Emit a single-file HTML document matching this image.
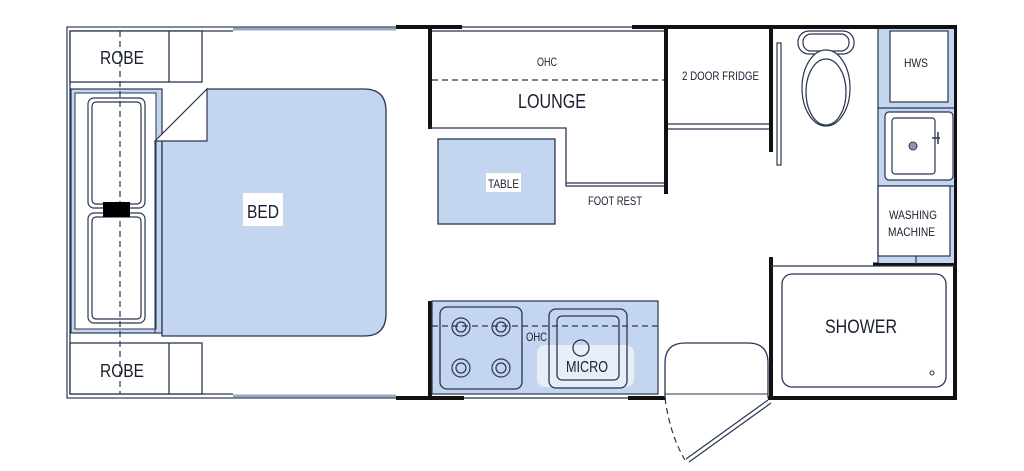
<!DOCTYPE html>
<html><head><meta charset="utf-8"><style>
html,body{margin:0;padding:0;background:#fff;width:1024px;height:471px;overflow:hidden}
text{font-family:"Liberation Sans",sans-serif;fill:#1a1f2e}
</style></head><body>
<svg width="1024" height="471" viewBox="0 0 1024 471" xmlns="http://www.w3.org/2000/svg">
<g fill="none" stroke="#2a3550" stroke-width="1.3">
<polyline points="396,27 67,27 67,398 396,398" stroke="#3a4560"/>
<line x1="70" y1="31" x2="233" y2="31"/>
<line x1="70" y1="394" x2="233" y2="394"/>
<line x1="70" y1="31" x2="70" y2="394"/>
</g>
<line x1="233" y1="29" x2="396" y2="29" stroke="#9aa7c0" stroke-width="3"/>
<line x1="233" y1="396" x2="396" y2="396" stroke="#9aa7c0" stroke-width="3"/>
<g stroke="#111" stroke-width="4" fill="none">
<line x1="396" y1="27" x2="462" y2="27"/>
<line x1="632" y1="27" x2="957" y2="27"/>
<line x1="955" y1="27" x2="955" y2="398"/>
<line x1="396" y1="398" x2="464" y2="398"/>
<line x1="628" y1="398" x2="666" y2="398"/>
<line x1="768" y1="398" x2="957" y2="398"/>
<line x1="430" y1="27" x2="430" y2="129"/>
<line x1="666" y1="27" x2="666" y2="194"/>
<line x1="771" y1="27" x2="771" y2="152"/>
<line x1="430" y1="301" x2="430" y2="398"/>
<line x1="771" y1="257" x2="771" y2="398"/>
<line x1="873" y1="264" x2="957" y2="264" stroke-width="3"/>
</g>
<g stroke="#2a3550" stroke-width="1.3" fill="none">
<line x1="462" y1="27" x2="632" y2="27"/>
<line x1="464" y1="398" x2="628" y2="398"/>
<line x1="432" y1="31" x2="664" y2="31"/>
</g>
<g fill="#fff" stroke="#2a3550" stroke-width="1.3">
<rect x="70" y="31" width="132" height="51"/>
<line x1="169" y1="31" x2="169" y2="82"/>
<rect x="70" y="343" width="132" height="51"/>
<line x1="169" y1="343" x2="169" y2="394"/>
</g>
<rect x="71" y="89" width="91" height="244" fill="#c4d6ef" stroke="#2a3550" stroke-width="1.2"/>
<rect x="75" y="93" width="81" height="236" fill="#fff" stroke="#2a3550" stroke-width="1"/>
<path d="M162 141 L207 89 L364 89 Q386 89 386 111 L386 314 Q386 336 364 336 L162 336 Z" fill="#c4d6ef" stroke="#2a3550" stroke-width="1.3"/>
<path d="M155 141 L207 89 L207 141 Z" fill="#fff" stroke="#2a3550" stroke-width="1.2"/>
<line x1="155" y1="141" x2="155" y2="333" stroke="#2a3550"/>
<g fill="#fff" stroke="#2a3550" stroke-width="1.2">
<rect x="88" y="98" width="57" height="110" rx="6"/>
<rect x="92" y="102" width="49" height="102" rx="4"/>
<rect x="88" y="213" width="57" height="110" rx="6"/>
<rect x="92" y="217" width="49" height="102" rx="4"/>
</g>
<line x1="120" y1="31" x2="120" y2="394" stroke="#2a3550" stroke-width="1.2" stroke-dasharray="6,4"/>
<rect x="103" y="202" width="27" height="15" fill="#000"/>
<rect x="243" y="193" width="40" height="33" fill="#fff"/>
<text x="247" y="218" font-size="18" textLength="32" lengthAdjust="spacingAndGlyphs">BED</text>
<text x="100" y="64" font-size="18" textLength="44" lengthAdjust="spacingAndGlyphs">ROBE</text>
<text x="100" y="377" font-size="18" textLength="44" lengthAdjust="spacingAndGlyphs">ROBE</text>
<g stroke="#2a3550" stroke-width="1.3" fill="none">
<polyline points="430,128 566,128 566,186 664,186"/>
<line x1="566" y1="183" x2="664" y2="183"/>
<line x1="432" y1="80" x2="664" y2="80" stroke-dasharray="6,4"/>
</g>
<text x="537" y="66" font-size="12" textLength="20" lengthAdjust="spacingAndGlyphs">OHC</text>
<text x="518" y="108" font-size="20" textLength="68" lengthAdjust="spacingAndGlyphs">LOUNGE</text>
<rect x="438" y="139" width="117" height="85" fill="#c4d6ef" stroke="#2a3550" stroke-width="1.3"/>
<rect x="486" y="173" width="35" height="19" fill="#fff"/>
<text x="488" y="188" font-size="12" textLength="31" lengthAdjust="spacingAndGlyphs">TABLE</text>
<text x="588" y="205" font-size="12" textLength="54" lengthAdjust="spacingAndGlyphs">FOOT REST</text>
<text x="682" y="80" font-size="12" textLength="77" lengthAdjust="spacingAndGlyphs">2 DOOR FRIDGE</text>
<g stroke="#2a3550" stroke-width="1.2" fill="none">
<line x1="668" y1="124" x2="769" y2="124"/>
<line x1="668" y1="129" x2="769" y2="129"/>
<rect x="777" y="43" width="4" height="122" fill="#fff"/>
<rect x="798" y="31" width="56" height="23" rx="11" fill="#fff"/>
<rect x="803" y="34" width="46" height="17" rx="8"/>
<ellipse cx="826" cy="88" rx="24" ry="38" fill="#fff"/>
<ellipse cx="826" cy="92" rx="20" ry="33"/>
</g>
<rect x="878" y="29" width="76" height="234" fill="#c4d6ef"/>
<g fill="#fff" stroke="#2a3550" stroke-width="1.2">
<rect x="890" y="31" width="58" height="71"/>
<line x1="878" y1="108" x2="954" y2="108" fill="none"/>
<rect x="885" y="112" width="68" height="68" rx="4"/>
<rect x="892" y="118" width="43" height="56" rx="3"/>
<line x1="878" y1="186" x2="954" y2="186" fill="none"/>
<rect x="878" y="186" width="72" height="70"/>
<line x1="878" y1="29" x2="878" y2="263" fill="none"/>
<line x1="916" y1="256" x2="916" y2="264" fill="none"/>
</g>
<circle cx="913" cy="146" r="4" fill="#8a96b0" stroke="#2a3550"/>
<line x1="932" y1="138" x2="940" y2="138" stroke="#2a3550" stroke-width="1.5"/>
<line x1="938" y1="132" x2="938" y2="144" stroke="#2a3550" stroke-width="1.5"/>
<text x="904" y="67" font-size="12" textLength="24" lengthAdjust="spacingAndGlyphs">HWS</text>
<text x="889" y="219" font-size="12" textLength="48" lengthAdjust="spacingAndGlyphs">WASHING</text>
<text x="888" y="236" font-size="12" textLength="47" lengthAdjust="spacingAndGlyphs">MACHINE</text>
<line x1="771" y1="266" x2="955" y2="266" stroke="#2a3550" stroke-width="1.3"/>
<rect x="782" y="274" width="164" height="113" rx="10" fill="#fff" stroke="#2a3550" stroke-width="1.3"/>
<circle cx="932" cy="373" r="2" fill="none" stroke="#2a3550"/>
<text x="825" y="333" font-size="19" textLength="72" lengthAdjust="spacingAndGlyphs">SHOWER</text>
<rect x="432" y="301" width="226" height="93" fill="#c4d6ef" stroke="#2a3550" stroke-width="1.2"/>
<rect x="440" y="307" width="82" height="82" rx="7" fill="#c4d6ef" stroke="#2a3550" stroke-width="1.3"/>
<g fill="none" stroke="#2a3550" stroke-width="1.2">
<circle cx="461" cy="327" r="9"/><circle cx="461" cy="327" r="5"/>
<circle cx="501" cy="327" r="9"/><circle cx="501" cy="327" r="5"/>
<circle cx="461" cy="368" r="9"/><circle cx="461" cy="368" r="5"/>
<circle cx="501" cy="368" r="9"/><circle cx="501" cy="368" r="5"/>
</g>
<rect x="537" y="345" width="97" height="42" rx="8" fill="#e8eef8"/>
<g fill="none" stroke="#2a3550" stroke-width="1.3">
<rect x="549" y="309" width="78" height="79" rx="7"/>
<rect x="557" y="316" width="62" height="64" rx="5"/>
<line x1="432" y1="326" x2="658" y2="326" stroke-dasharray="6,4"/>
<circle cx="581" cy="348" r="8"/>
</g>
<text x="526" y="341" font-size="12" textLength="21" lengthAdjust="spacingAndGlyphs">OHC</text>
<text x="566" y="372" font-size="16" textLength="42" lengthAdjust="spacingAndGlyphs">MICRO</text>
<path d="M665 398 L665 363 Q665 343 685 343 L748 343 Q768 343 768 363 L768 398" fill="#fff" stroke="#2a3550" stroke-width="1.3"/>
<line x1="665" y1="394" x2="768" y2="394" stroke="#2a3550" stroke-width="1"/>
<path d="M665 398 Q670 435 685 460" fill="none" stroke="#2a3550" stroke-width="1.2" stroke-dasharray="6,4"/>
<line x1="768" y1="400" x2="686" y2="459" stroke="#2a3550" stroke-width="1.2"/>
<line x1="771" y1="403" x2="689" y2="462" stroke="#2a3550" stroke-width="1.2"/>
</svg>
</body></html>
